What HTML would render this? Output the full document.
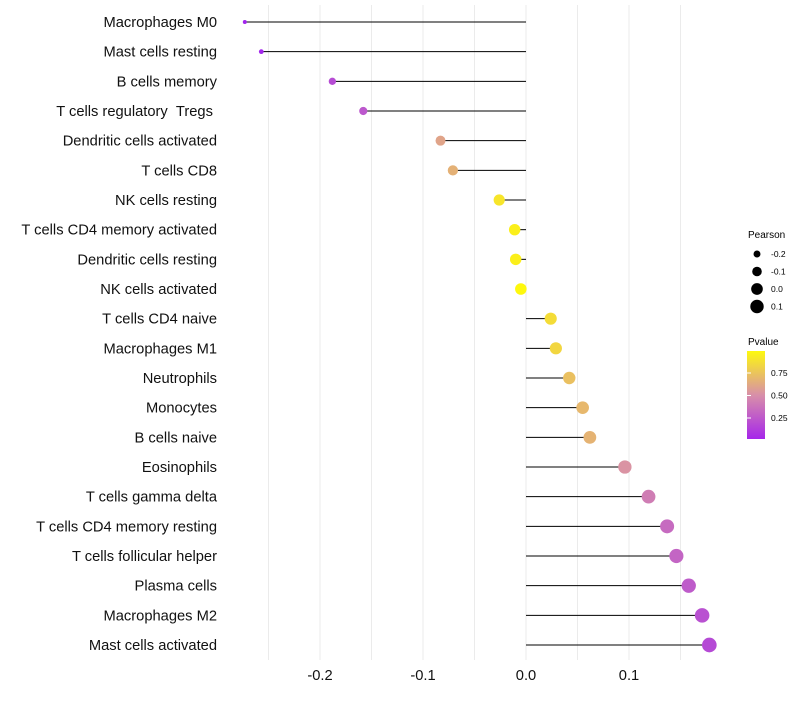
<!DOCTYPE html>
<html><head><meta charset="utf-8"><style>
body{margin:0;background:#fff;font-family:"Liberation Sans",sans-serif}
</style></head><body>
<svg id="c" width="800" height="700" xmlns="http://www.w3.org/2000/svg" font-family="Liberation Sans, sans-serif">
<defs><linearGradient id="pg" x1="0" y1="1" x2="0" y2="0">
<stop offset="0" stop-color="#a626ea"/><stop offset="0.5" stop-color="#d88fa9"/><stop offset="1" stop-color="#fdf90f"/></linearGradient></defs>
<g id="grid"></g><g id="marks"></g><g id="labels"></g>
<g>
<text x="748" y="238" font-size="10">Pearson</text>
<g id="sizeleg"></g>
<text x="748" y="345" font-size="10">Pvalue</text>
<rect x="747" y="351" width="18" height="88" fill="url(#pg)"/>
<g id="colleg"></g>
</g>
</svg>
<script>
const categories=["Macrophages M0","Mast cells resting","B cells memory","T cells regulatory\u00a0\u00a0Tregs\u00a0","Dendritic cells activated","T cells CD8","NK cells resting","T cells CD4 memory activated","Dendritic cells resting","NK cells activated","T cells CD4 naive","Macrophages M1","Neutrophils","Monocytes","B cells naive","Eosinophils","T cells gamma delta","T cells CD4 memory resting","T cells follicular helper","Plasma cells","Macrophages M2","Mast cells activated"];
const pearson=[-0.273,-0.257,-0.188,-0.158,-0.083,-0.071,-0.026,-0.011,-0.010,-0.005,0.024,0.029,0.042,0.055,0.062,0.096,0.119,0.137,0.146,0.158,0.171,0.178];
const pvalue=[0.02,0.03,0.2,0.25,0.6,0.66,0.9,0.95,0.95,0.99,0.86,0.83,0.73,0.69,0.67,0.52,0.42,0.34,0.31,0.27,0.22,0.19];
const xTicks=[-0.2,-0.1,0.0,0.1];
const xTickLabels=["-0.2","-0.1","0.0","0.1"];
const sizeLegend=[-0.2,-0.1,0.0,0.1];
const pTicks=[0.25,0.5,0.75];
const NS="http://www.w3.org/2000/svg";
const X=v=>526+v*1030;
const Y=i=>22+i*(623/21);
const R=v=>Math.sqrt(Math.max(3,34+110*v));
const PY=p=>440.5-p*90;
function lerp(a,b,t){return a.map((x,i)=>Math.round(x+(b[i]-x)*t));}
function col(p){const c0=[160,32,240],c1=[216,143,169],c2=[255,250,10];
 const c=p<0.5?lerp(c0,c1,p/0.5):lerp(c1,c2,(p-0.5)/0.5);return `rgb(${c.join(',')})`;}
function mk(t,a,parent){const e=document.createElementNS(NS,t);for(const k in a)e.setAttribute(k,a[k]);document.getElementById(parent).appendChild(e);return e;}
for(let v=-0.25;v<=0.151;v+=0.05){
 const g=mk('line',{x1:X(v),x2:X(v),y1:5,y2:660,stroke:'#ebebeb','stroke-width':1},'grid');
 
 
}
xTicks.forEach((v,i)=>{
 const t=mk('text',{x:X(v),y:680,'font-size':14.7,'text-anchor':'middle',fill:'#111'},'labels');t.textContent=xTickLabels[i];
 
 
});
categories.forEach((c,i)=>{
 const y=Y(i);
 const l=mk('line',{x1:X(0),x2:X(pearson[i]),y1:y,y2:y,stroke:'#000','stroke-width':1},'marks');
 
 
 const d=mk('circle',{cx:X(pearson[i]),cy:y,r:R(pearson[i]),fill:col(pvalue[i])},'marks');
 
 
 const t=mk('text',{x:217,y:y+5,'font-size':14.7,'text-anchor':'end',fill:'#111'},'labels');t.textContent=c;
 
 
});
sizeLegend.forEach((v,i)=>{
 const y=254+i*17.5;
 const d=mk('circle',{cx:757,cy:y,r:R(v),fill:'#000'},'sizeleg');
 
 
 const t=mk('text',{x:771,y:y+3,'font-size':8.5},'sizeleg');t.textContent=v.toFixed(1);
 
 
});
pTicks.forEach(p=>{
 const t=mk('text',{x:771,y:PY(p)+3,'font-size':8.5},'colleg');t.textContent=p.toFixed(2);
 
 
 const l=mk('line',{x1:747,x2:751,y1:PY(p),y2:PY(p),stroke:'#fff'},'colleg');
 
 
});
</script>
</body></html>
